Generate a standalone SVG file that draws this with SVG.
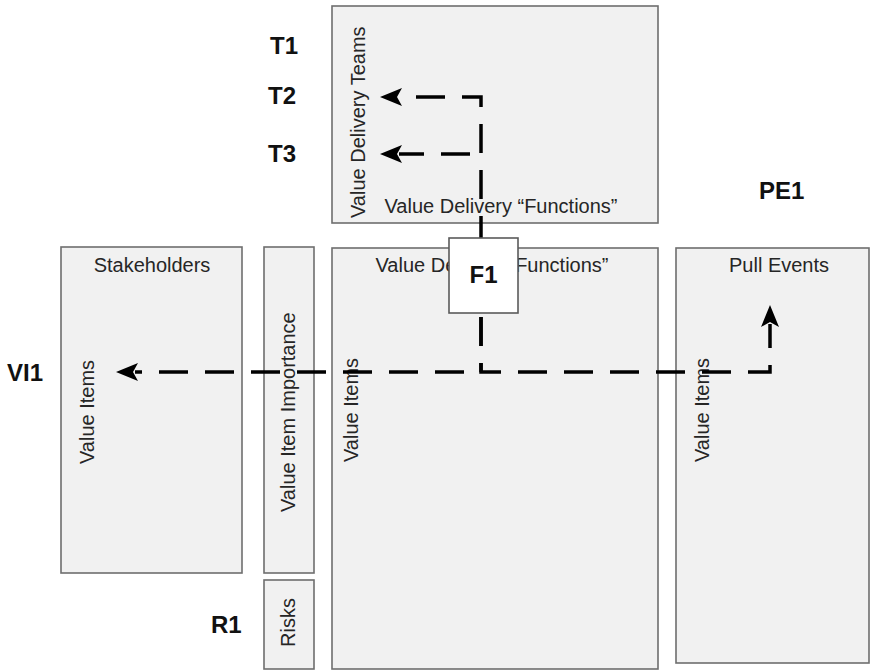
<svg xmlns="http://www.w3.org/2000/svg" width="871" height="671" viewBox="0 0 871 671">
  <style>
    .panel { fill: #f1f1f1; stroke: #6e6e6e; stroke-width: 1.6; }
    .fn { fill: #ffffff; stroke: #5a5a5a; stroke-width: 1.6; }
    .title { font-family: "Liberation Sans", Arial, sans-serif; font-size: 20px; fill: #262626; }
    .tag { font-family: "Liberation Sans", Arial, sans-serif; font-size: 24px; font-weight: bold; fill: #111111; }
    .flow { fill: none; stroke: #000000; stroke-width: 3.5; stroke-dasharray: 29 17; }
  </style>
  <defs>
    <marker id="head" viewBox="0 0 22 18" refX="3" refY="9" markerWidth="22" markerHeight="18" markerUnits="userSpaceOnUse" orient="auto">
      <path d="M0,0 L22,9 L0,18 L5,9 z" fill="#000000"/>
    </marker>
  </defs>

  <rect width="871" height="671" fill="#ffffff"/>

  <!-- team panel (top) -->
  <g id="teams">
    <rect class="panel" x="332" y="6" width="326" height="217"/>
    <text class="title" transform="translate(365,218) rotate(-90)">Value Delivery Teams</text>
    <text class="title" x="501" y="213" text-anchor="middle">Value Delivery “Functions”</text>
  </g>

  <g id="stakeholders">
    <rect class="panel" x="61" y="247" width="181" height="326"/>
    <text class="title" x="152" y="272" text-anchor="middle">Stakeholders</text>
    <text class="title" transform="translate(94,464) rotate(-90)">Value Items</text>
  </g>

  <g id="importance">
    <rect class="panel" x="264" y="247" width="50" height="326"/>
    <text class="title" transform="translate(295,512) rotate(-90)">Value Item Importance</text>
  </g>

  <g id="risks">
    <rect class="panel" x="264" y="580" width="50" height="89"/>
    <text class="title" transform="translate(295,647) rotate(-90)">Risks</text>
  </g>

  <g id="functions">
    <rect class="panel" x="332" y="248" width="326" height="421"/>
    <text class="title" x="492" y="272" text-anchor="middle">Value Delivery “Functions”</text>
    <text class="title" transform="translate(358,462) rotate(-90)">Value Items</text>
  </g>

  <g id="pull-events">
    <rect class="panel" x="676" y="248" width="193" height="415"/>
    <text class="title" x="779" y="272" text-anchor="middle">Pull Events</text>
    <text class="title" transform="translate(709,462) rotate(-90)">Value Items</text>
  </g>

  <!-- dashed flows out of F1 -->
  <g id="connectors">
    <path class="flow" d="M481,238 V97 H399" stroke-dashoffset="7" marker-end="url(#head)"/>
    <path class="flow" d="M481,154 H399" stroke-dashoffset="35" marker-end="url(#head)"/>
    <path class="flow" d="M481,313 V372" stroke-dashoffset="42"/>
    <path class="flow" d="M481,372 H135" stroke-dashoffset="29" marker-end="url(#head)"/>
    <path class="flow" d="M481,313 V372 H770 V324" stroke-dashoffset="42" marker-end="url(#head)"/>
  </g>

  <g id="f1">
    <rect class="fn" x="449" y="238" width="69" height="75"/>
    <text class="tag" x="483.5" y="283" text-anchor="middle">F1</text>
  </g>

  <g id="labels">
    <text id="t1" class="tag" x="270" y="54">T1</text>
    <text id="t2" class="tag" x="268" y="104">T2</text>
    <text id="t3" class="tag" x="268" y="162">T3</text>
    <text id="vi1" class="tag" x="7" y="381">VI1</text>
    <text id="r1" class="tag" x="211" y="633">R1</text>
    <text id="pe1" class="tag" x="759" y="199">PE1</text>
  </g>
</svg>
